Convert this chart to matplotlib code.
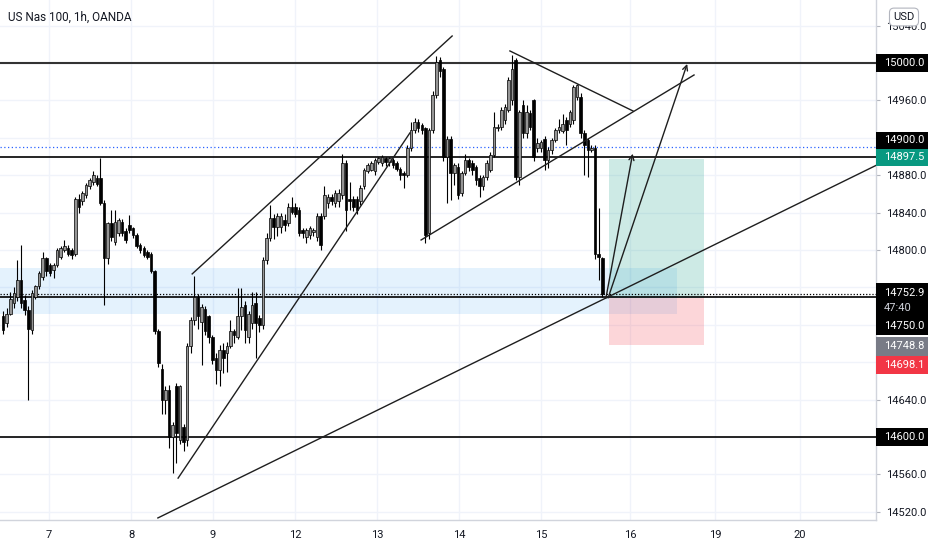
import numpy as np
import matplotlib
matplotlib.use("Agg")
import matplotlib.pyplot as plt
from matplotlib.patches import Rectangle
from matplotlib.transforms import blended_transform_factory

plt.rcParams['font.family'] = ['Roboto', 'DejaVu Sans']

# hourly candles, US Nas 100 (OANDA)
opens = [14729, 14722, 14732, 14743, 14750, 14768, 14747, 14736, 14714, 14750,
         14761, 14771, 14791, 14784, 14779, 14784, 14793, 14800, 14802, 14800,
         14796, 14855, 14852, 14859, 14868, 14873, 14877, 14877, 14850, 14791,
         14829, 14809, 14818, 14830, 14820, 14827, 14823, 14816, 14805, 14802,
         14798, 14796, 14777,
         14713, 14673, 14640, 14650, 14600, 14654, 14597, 14611, 14597, 14697,
         14725, 14750, 14723, 14737, 14729, 14707, 14684, 14672, 14693, 14690,
         14697, 14713, 14707, 14729, 14741, 14707, 14722, 14743, 14727, 14720,
         14789, 14813, 14834, 14825, 14825, 14832, 14829, 14846, 14846, 14843,
         14821, 14814, 14816,
         14819, 14814, 14836, 14836, 14850, 14857, 14850, 14852, 14859, 14893,
         14855, 14855, 14855, 14852, 14868, 14884, 14886, 14884, 14894, 14893,
         14898, 14894, 14896, 14893, 14887, 14882, 14880, 14909, 14928, 14937,
         14934, 14930, 14818, 14928, 14966, 15003, 14994, 14900, 14919, 14882,
         14889,
         14861, 14882, 14896, 14893, 14889, 14877, 14868, 14878, 14886, 14902,
         14930, 14932, 14939, 14950, 14960, 15003, 14878, 14955, 14925, 14946,
         14960, 14909, 14909, 14919, 14896, 14907, 14918, 14928, 14927, 14939,
         14935, 14939, 14964, 14964, 14925, 14918, 14907, 14909, 14796, 14791]
highs = [14735, 14738, 14755, 14760, 14789, 14805, 14752, 14740, 14757, 14763,
         14777, 14798, 14792, 14786, 14786, 14802, 14804, 14811, 14805, 14802,
         14857, 14860, 14863, 14872, 14877, 14885, 14880, 14898, 14853, 14830,
         14843, 14843, 14834, 14833, 14823, 14837, 14825, 14818, 14808, 14804,
         14800, 14798, 14779,
         14715, 14678, 14655, 14656, 14616, 14658, 14656, 14614, 14700, 14728,
         14772, 14753, 14742, 14740, 14731, 14709, 14690, 14698, 14700, 14702,
         14725, 14715, 14759, 14759, 14745, 14735, 14755, 14755, 14730, 14792,
         14818, 14848, 14838, 14840, 14840, 14838, 14850, 14857, 14850, 14846,
         14824, 14824, 14826,
         14824, 14840, 14840, 14868, 14860, 14860, 14864, 14865, 14903, 14896,
         14873, 14858, 14858, 14870, 14888, 14893, 14895, 14898, 14900, 14902,
         14900, 14900, 14898, 14895, 14889, 14884, 14912, 14937, 14941, 14940,
         14936, 14932, 14930, 14970, 15007, 15006, 14996, 14922, 14922, 14893,
         14893,
         14885, 14903, 14898, 14896, 14891, 14880, 14880, 14896, 14905, 14948,
         14935, 14953, 14956, 14985, 15009, 15005, 14950, 14960, 14955, 14950,
         14962, 14920, 14918, 14922, 14910, 14920, 14930, 14940, 14945, 14942,
         14950, 14976, 14978, 14968, 14928, 14920, 14912, 14912, 14845, 14793]
lows = [14710, 14718, 14730, 14738, 14745, 14738, 14730, 14640, 14710, 14748,
        14758, 14768, 14772, 14772, 14770, 14782, 14790, 14798, 14794, 14790,
        14794, 14840, 14848, 14856, 14865, 14870, 14868, 14848, 14741, 14785,
        14810, 14805, 14815, 14815, 14808, 14818, 14813, 14802, 14797, 14793,
        14790, 14775, 14710,
        14675, 14625, 14625, 14588, 14561, 14572, 14592, 14585, 14590, 14690,
        14720, 14715, 14677, 14709, 14700, 14678, 14657, 14655, 14668, 14670,
        14695, 14700, 14705, 14714, 14700, 14700, 14715, 14684, 14712, 14715,
        14785, 14810, 14812, 14815, 14818, 14820, 14826, 14838, 14835, 14815,
        14813, 14808, 14812,
        14815, 14810, 14800, 14833, 14845, 14848, 14846, 14846, 14855, 14820,
        14843, 14842, 14838, 14848, 14865, 14882, 14884, 14880, 14892, 14890,
        14890, 14890, 14888, 14884, 14875, 14866, 14878, 14906, 14925, 14926,
        14924, 14807, 14812, 14925, 14963, 14985, 14895, 14850, 14853, 14870,
        14855,
        14858, 14880, 14885, 14880, 14870, 14857, 14864, 14875, 14883, 14899,
        14927, 14928, 14935, 14948, 14955, 14875, 14870, 14920, 14920, 14928,
        14895, 14905, 14905, 14886, 14888, 14903, 14915, 14925, 14925, 14912,
        14932, 14935, 14960, 14920, 14880, 14878, 14905, 14790, 14768, 14750]
closes = [14714, 14732, 14748, 14754, 14768, 14743, 14736, 14716, 14754, 14761,
          14775, 14791, 14777, 14775, 14784, 14800, 14802, 14804, 14796, 14795,
          14855, 14846, 14861, 14870, 14875, 14880, 14871, 14850, 14791, 14829,
          14814, 14830, 14832, 14818, 14811, 14821, 14816, 14804, 14800, 14795,
          14793, 14777, 14713,
          14679, 14640, 14650, 14600, 14613, 14604, 14654, 14595, 14697, 14725,
          14750, 14729, 14739, 14713, 14707, 14682, 14672, 14693, 14685, 14697,
          14713, 14709, 14729, 14739, 14714, 14732, 14741, 14722, 14720, 14789,
          14813, 14834, 14825, 14836, 14836, 14827, 14846, 14841, 14839, 14818,
          14818, 14821, 14823,
          14821, 14836, 14805, 14859, 14857, 14852, 14861, 14861, 14893, 14843,
          14852, 14846, 14843, 14866, 14886, 14891, 14893, 14896, 14898, 14900,
          14894, 14898, 14891, 14887, 14880, 14880, 14909, 14928, 14937, 14930,
          14928, 14816, 14928, 14966, 15001, 14991, 14900, 14919, 14882, 14891,
          14859,
          14882, 14896, 14889, 14886, 14875, 14868, 14878, 14893, 14902, 14932,
          14932, 14950, 14953, 14982, 14994, 14878, 14948, 14925, 14948, 14932,
          14900, 14914, 14916, 14896, 14907, 14918, 14928, 14932, 14935, 14928,
          14948, 14974, 14976, 14925, 14912, 14907, 14909, 14796, 14793, 14752.9]

day_pos = [12.7, 35.5, 58.2, 80.9, 103.6, 126.3, 149.0, 173.7, 197.2, 220.8]
day_labels = ['7', '8', '9', '12', '13', '14', '15', '16', '19', '20']
price_ticks = np.arange(14520, 15041, 40)

# horizontal levels drawn on the chart
levels = [15000, 14900, 14750, 14600]
prev_line = 14910
last_price = 14752.9

# long position tool
entry, target, stop = 14748.8, 14897.5, 14698.1
pos_start, pos_end = 167.9, 194.2

# demand zone
zone_lo, zone_hi, zone_end = 14731.6, 14780.8, 186.7

# trend lines (bar, price) pairs
trend_lines = [
    [(52.4, 14774.4), (124.4, 15028.9)],
    [(48.5, 14556.0), (112.7, 14925.2)],
    [(115.8, 14810.7), (191.4, 14987.2)],
    [(140.4, 15012.9), (174.5, 14948.7)],
]
support = [(42.9, 14513.4), (241.5, 14889.9)]
arrows = [[(167.0, 14748.7), (174.4, 14903.0)],
          [(167.6, 14748.7), (189.5, 14999.0)]]

ink = '#131722'
W, H = 932, 550
fig = plt.figure(figsize=(W / 100, H / 100), dpi=100)
ax = fig.add_axes([0, 30 / H, 876 / W, 520 / H])
ymin, ymax = 14511.2, 15067.4
ax.set_xlim(-0.83, 241.8)
ax.set_ylim(ymin, ymax)
ppu = 520 / (ymax - ymin)

o = np.array(opens, float)
h = np.array(highs, float)
l = np.array(lows, float)
c = np.array(closes, float)
x = np.arange(len(o))
up = c >= o
bot = np.minimum(o, c)
hgt = np.maximum(np.abs(c - o), 0.9)

ax.vlines(x, l, h, color='#000000', lw=0.8, zorder=4)
ax.bar(x[up], hgt[up], bottom=bot[up], width=0.72, color='#959595',
       edgecolor='#000000', linewidth=0.5, zorder=5)
ax.bar(x[~up], hgt[~up], bottom=bot[~up], width=0.72, color='#000000',
       edgecolor='#000000', linewidth=0.5, zorder=5)

# zone and position boxes
ax.add_patch(Rectangle((-5, zone_lo), zone_end + 5, zone_hi - zone_lo,
                       facecolor='#2196f3', alpha=0.12, edgecolor='none', zorder=1))
ax.add_patch(Rectangle((pos_start, entry), pos_end - pos_start, target - entry,
                       facecolor='#089981', alpha=0.2, edgecolor='none', zorder=2))
ax.add_patch(Rectangle((pos_start, stop), pos_end - pos_start, entry - stop,
                       facecolor='#f23645', alpha=0.2, edgecolor='none', zorder=2))

for lv in levels:
    ax.axhline(lv, color='#000000' if lv != 15000 else '#333333',
               lw=1.5 if lv == 15000 else 1.2, zorder=3)
ax.axhline(prev_line, color='#2962ff', lw=0.9, ls=(0, (1, 2)), zorder=3)
ax.axhline(last_price, color='#000000', lw=0.9, ls=(0, (1, 1.5)), zorder=3)

for (x0, y0), (x1, y1) in trend_lines:
    ax.plot([x0, x1], [y0, y1], color='#1e1e1e', lw=1.0, zorder=6)
(sx0, sy0), (sx1, sy1) = support
slope = (sy1 - sy0) / (sx1 - sx0)
ax.plot([sx0, 250], [sy0, sy0 + slope * (250 - sx0)], color='#1e1e1e', lw=1.0, zorder=6)
for start, tip in arrows:
    ax.annotate('', xy=tip, xytext=start,
                arrowprops=dict(arrowstyle='->', color='#1e1e1e', lw=1.0,
                                mutation_scale=9, shrinkA=0, shrinkB=0), zorder=6)

# axes styling
for s in ['top', 'left']:
    ax.spines[s].set_visible(False)
for s in ['right', 'bottom']:
    ax.spines[s].set_color('#d1d4dc')
    ax.spines[s].set_linewidth(1)
ax.set_xticks(day_pos)
ax.set_xticklabels(day_labels)
ax.set_yticks(price_ticks)
ax.set_yticklabels([f'{v:.1f}' for v in price_ticks])
ax.yaxis.tick_right()
ax.tick_params(axis='x', length=0, pad=7, labelsize=8, labelcolor=ink)
ax.tick_params(axis='y', length=3, width=0.8, color='#b2b5be', pad=4,
               labelsize=8, labelcolor=ink)
ax.grid(True, color='#f0f3fa', lw=1, zorder=0)
ax.set_axisbelow(True)

# price scale labels (shift in px like the scale does to avoid overlaps)
tr = blended_transform_factory(fig.transFigure, ax.transData)
scale_labels = [
    ('15000.0', 15000, '#000000', 0, 18),
    ('14900.0', 14900, '#000000', 16.5, 17),
    ('14897.5', 14897.5, '#089981', 1.4, 17),
    ('14750.0', 14750, '#000000', -29, 18),
    ('14748.8', 14748.8, '#787b86', -48.6, 19),
    ('14698.1', 14698.1, '#f23645', -19.7, 18),
    ('14600.0', 14600, '#000000', 0, 18),
]
for txt, p, col, shift, bh in scale_labels:
    yc = p + shift / ppu
    ax.add_patch(Rectangle((876 / W, yc - bh / 2 / ppu), 52 / W, bh / ppu,
                           transform=tr, facecolor=col, edgecolor='none',
                           clip_on=False, zorder=10))
    ax.text(884 / W, yc, txt, transform=tr, color='white', fontsize=8,
            va='center', ha='left', clip_on=False, zorder=11)

# last price box with countdown
yc = last_price + 1.2 / ppu
ax.add_patch(Rectangle((876 / W, yc - 24 / ppu), 52 / W, 34 / ppu, transform=tr,
                       facecolor='#000000', edgecolor='none', clip_on=False, zorder=10))
ax.text(884 / W, yc, f'{last_price:.1f}', transform=tr, color='white', fontsize=8,
        va='center', ha='left', clip_on=False, zorder=11)
ax.text(884 / W, yc - 15 / ppu, '47:40', transform=tr, color='#d1d4dc', fontsize=8,
        va='center', ha='left', clip_on=False, zorder=11)

fig.text(8 / W, 1 - 17 / H, 'US Nas 100, 1h, OANDA', fontsize=8.5, color=ink,
         va='center', ha='left')
fig.text(904 / W, 1 - 17 / H, 'USD', fontsize=8, color=ink, va='center', ha='center',
         bbox=dict(boxstyle='round,pad=0.35,rounding_size=0.4', facecolor='white',
                   edgecolor='#b2b5be', lw=0.8), zorder=12)

fig.savefig('out.png', dpi=100, facecolor='white')
